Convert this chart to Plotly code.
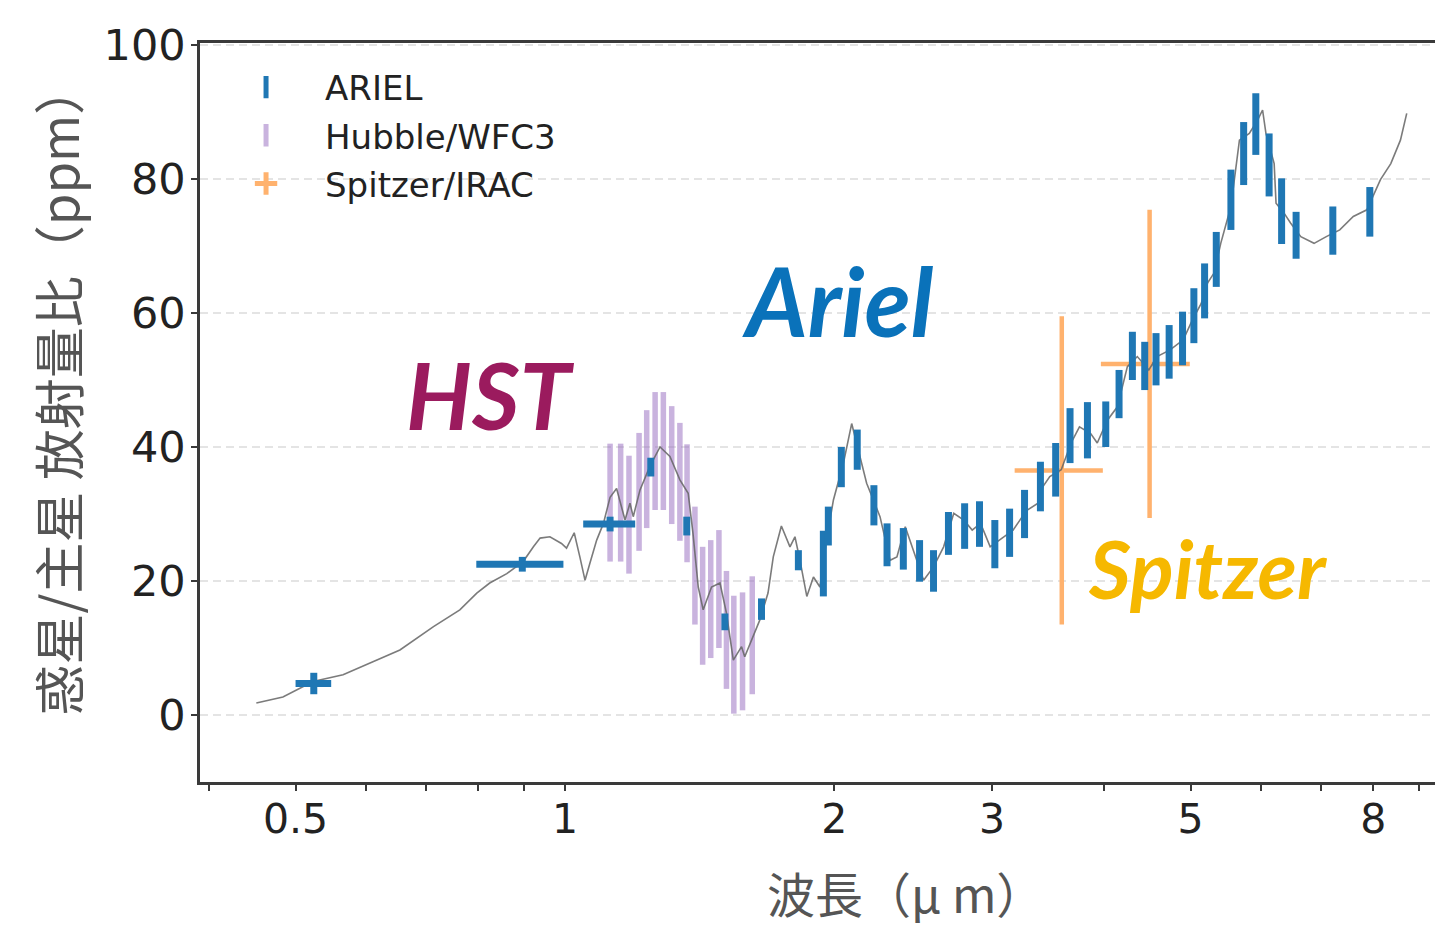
import plotly.graph_objects as go

# ---------------- data ----------------
model_x = [0.452, 0.484, 0.523, 0.565, 0.611, 0.654, 0.713, 0.763, 0.797, 0.824, 0.861, 0.898,
           0.922, 0.938, 0.962, 0.991, 1.004, 1.024, 1.039, 1.053, 1.066, 1.085, 1.104, 1.123,
           1.142, 1.167, 1.182, 1.192, 1.213, 1.244, 1.277, 1.310, 1.344, 1.373, 1.390, 1.409,
           1.427, 1.458, 1.490, 1.515, 1.542, 1.575, 1.588, 1.623, 1.651, 1.686, 1.709, 1.745,
           1.784, 1.807, 1.831, 1.863, 1.895, 1.927, 1.960, 1.995, 2.047, 2.091, 2.126, 2.173,
           2.211, 2.249, 2.308, 2.349, 2.400, 2.452, 2.516, 2.581, 2.649, 2.719, 2.790, 2.851,
           2.913, 2.986, 3.061, 3.167, 3.278, 3.377, 3.420, 3.481, 3.585, 3.677, 3.757, 3.867,
           3.933, 4.037, 4.142, 4.250, 4.360, 4.491, 4.587, 4.744, 4.907, 5.021, 5.138, 5.225,
           5.313, 5.404, 5.547, 5.670, 5.816, 5.941, 6.018, 6.070, 6.200, 6.230, 6.360, 6.470,
           6.640, 6.870, 7.090, 7.340, 7.600, 7.870, 8.150, 8.370, 8.580, 8.720]
model_y = [1.8, 2.7, 5.0, 6.0, 8.0, 9.7, 13.2, 15.7, 18.2, 19.7, 21.1, 22.9,
           25.1, 26.4, 26.6, 25.6, 24.9, 27.2, 23.6, 20.1, 22.6, 26.1, 28.6, 32.5,
           33.8, 29.1, 31.6, 29.6, 33.6, 37.1, 40.0, 38.6, 35.1, 33.1, 27.1, 19.1,
           15.7, 19.1, 19.7, 15.2, 8.2, 10.2, 8.7, 11.7, 14.2, 18.2, 23.6, 28.2,
           25.1, 26.6, 23.0, 17.7, 20.6, 19.1, 26.1, 32.1, 37.6, 43.5, 39.6, 34.6,
           32.1, 29.6, 23.1, 23.6, 28.1, 24.6, 20.1, 22.1, 25.1, 30.1, 29.1, 27.6,
           28.6, 25.1, 26.1, 27.6, 30.5, 31.6, 34.1, 35.6, 36.6, 40.6, 43.0, 42.0,
           40.6, 44.0, 46.0, 52.0, 53.5, 51.5, 53.5, 54.5, 56.0, 58.9, 61.4, 64.5,
           66.0, 70.4, 75.9, 85.8, 86.8, 88.8, 90.3, 86.8, 82.3, 76.4, 74.9, 73.4,
           71.4, 70.4, 71.4, 72.4, 74.4, 75.4, 79.9, 82.3, 85.8, 89.8]

# ARIEL binned points (first three also have wavelength bin widths)
ariel_wide_x = [0.524, 0.896, 1.123]
ariel_wide_y = [4.7, 22.5, 28.5]
ariel_wide_xerr = [0.024, 0.100, 0.075]
ariel_wide_yerr = [1.6, 1.1, 1.1]

ariel_x = [1.247, 1.368, 1.509, 1.658, 1.823, 1.944, 1.969, 2.036, 2.121, 2.214, 2.290,
           2.388, 2.490, 2.581, 2.682, 2.796, 2.905, 3.022, 3.139, 3.262, 3.398, 3.534,
           3.667, 3.835, 4.020, 4.160, 4.305, 4.444, 4.575, 4.732, 4.898, 5.043, 5.184,
           5.342, 5.547, 5.732, 5.914, 6.120, 6.320, 6.560, 7.210, 7.930]
ariel_y = [37.0, 28.2, 13.9, 15.8, 23.1, 22.6, 28.2, 37.0, 39.6, 31.3, 25.4,
           24.8, 23.0, 21.5, 27.1, 28.2, 28.5, 25.5, 27.2, 30.0, 34.1, 36.6,
           41.7, 42.5, 43.4, 47.9, 53.6, 52.1, 53.1, 54.2, 56.2, 59.6, 63.3,
           68.0, 76.9, 83.8, 88.2, 82.1, 75.2, 71.6, 72.3, 75.1]
ariel_yerr = [1.4, 1.4, 1.25, 1.6, 1.5, 4.9, 2.9, 3.0, 3.0, 3.0, 3.2,
              3.1, 3.1, 3.1, 3.2, 3.4, 3.4, 3.6, 3.6, 3.6, 3.7, 4.0,
              4.1, 4.2, 3.4, 3.6, 3.6, 3.6, 3.9, 4.0, 4.0, 4.1, 4.1,
              4.1, 4.5, 4.7, 4.6, 4.7, 4.9, 3.5, 3.6, 3.7]

hubble_x = [1.123, 1.154, 1.179, 1.210, 1.234, 1.261, 1.288, 1.316, 1.344,
            1.369, 1.397, 1.425, 1.455, 1.486, 1.515, 1.544, 1.579, 1.619]
hubble_y = [31.7, 31.7, 29.9, 33.3, 36.7, 39.4, 39.4, 37.3, 34.8,
            31.6, 22.3, 16.3, 17.3, 18.8, 12.7, 9.0, 9.5, 11.9]
hubble_yerr = [8.8] * 18

spitzer_x = [3.59, 4.50]
spitzer_y = [36.5, 52.4]
spitzer_xerr_minus = [0.41, 0.53]
spitzer_xerr_plus = [0.40, 0.49]
spitzer_yerr = [23.0, 23.0]

x_tickvals = [0.4, 0.5, 0.6, 0.7, 0.8, 0.9, 1, 2, 3, 4, 5, 6, 7, 8, 9]
x_ticktext = ["", "0.5", "", "", "", "", "1", "2", "3", "", "5", "", "", "8", ""]
y_tickvals = [0, 20, 40, 60, 80, 100]

legend_names = ["ARIEL", "Hubble/WFC3", "Spitzer/IRAC"]

# ---------------- styles ----------------
BLUE = "#1f77b4"
PURPLE = "rgba(148,103,189,0.5)"
ORANGE = "#ffb26e"
INVIS = dict(size=1, color="rgba(0,0,0,0)")

fig = go.Figure()

fig.add_trace(go.Scatter(
    x=hubble_x, y=hubble_y, mode="markers", marker=INVIS, showlegend=False, hoverinfo="skip",
    error_y=dict(type="data", array=hubble_yerr, color=PURPLE, thickness=5.5, width=0)))

fig.add_trace(go.Scatter(
    x=spitzer_x, y=spitzer_y, mode="markers", marker=INVIS, showlegend=False, hoverinfo="skip",
    error_y=dict(type="data", array=spitzer_yerr, color=ORANGE, thickness=4.5, width=0),
    error_x=dict(type="data", array=spitzer_xerr_plus, arrayminus=spitzer_xerr_minus,
                 color=ORANGE, thickness=4.5, width=0)))

fig.add_trace(go.Scatter(
    x=model_x, y=model_y, mode="lines", line=dict(color="rgba(100,100,100,0.85)", width=1.6),
    showlegend=False, hoverinfo="skip"))

fig.add_trace(go.Scatter(
    x=ariel_wide_x, y=ariel_wide_y, mode="markers", marker=INVIS, showlegend=False, hoverinfo="skip",
    error_y=dict(type="data", array=ariel_wide_yerr, color=BLUE, thickness=7, width=0),
    error_x=dict(type="data", array=ariel_wide_xerr, color=BLUE, thickness=7, width=0)))

fig.add_trace(go.Scatter(
    x=ariel_x, y=ariel_y, mode="markers", marker=INVIS, showlegend=False, hoverinfo="skip",
    error_y=dict(type="data", array=ariel_yerr, color=BLUE, thickness=7, width=0)))

# legend entries
leg_symbols = ["line-ns-open", "line-ns-open", "cross-thin-open"]
leg_colors = [BLUE, PURPLE, ORANGE]
for nm, sym, col in zip(legend_names, leg_symbols, leg_colors):
    fig.add_trace(go.Scatter(x=[None], y=[None], mode="markers", name=nm, legendgroup=nm,
                             marker=dict(symbol=sym, size=16, color=col,
                                         line=dict(color=col, width=5))))

AX = "#3a3a3a"
fig.update_layout(
    width=1435, height=931,
    margin=dict(l=200, r=0, t=43, b=149, pad=0),
    plot_bgcolor="white", paper_bgcolor="white",
    font=dict(family="DejaVu Sans", color="#222"),
    showlegend=True,
    legend=dict(x=0.0057, y=0.979, xanchor="left", yanchor="top", bgcolor="rgba(0,0,0,0)",
                font=dict(family="DejaVu Sans", size=34, color="#222"),
                itemwidth=108, tracegroupgap=1),
    xaxis=dict(type="log", range=[-0.4078, 0.9721], tickvals=x_tickvals, ticktext=x_ticktext,
               showgrid=False, zeroline=False, showline=True, mirror=True, linecolor=AX, linewidth=2.5,
               ticks="outside", ticklen=6, tickwidth=1.5, tickcolor=AX,
               tickfont=dict(family="DejaVu Sans", size=41, color="#222")),
    yaxis=dict(range=[-10, 100.3], tickvals=y_tickvals, showgrid=True, gridcolor="#e4e4e4",
               griddash="8px,5px", gridwidth=1.5, zeroline=False, showline=True, mirror=False,
               linecolor=AX, linewidth=2.5, ticks="outside", ticklen=6, tickwidth=1.5, tickcolor=AX,
               tickfont=dict(family="DejaVu Sans", size=43, color="#222")),
    annotations=[
        dict(text="HST", xref="paper", yref="paper", x=0.2348, y=0.5237, showarrow=False,
             xanchor="center", yanchor="middle",
             font=dict(family="Lato", size=92, color="#9b1b5e", weight="bold", style="italic")),
        dict(text="Ariel", xref="paper", yref="paper", x=0.5166, y=0.6522, showarrow=False,
             xanchor="center", yanchor="middle",
             font=dict(family="Lato", size=95, color="#0a72ba", weight="bold", style="italic")),
        dict(text="Spitzer", xref="paper", yref="paper", x=0.8162, y=0.290, showarrow=False,
             xanchor="center", yanchor="middle",
             font=dict(family="Lato", size=81, color="#f6b800", weight="bold", style="italic")),
        dict(text="波長（μ m）", xref="paper", yref="paper", x=0.5712, y=-0.1489, showarrow=False,
             xanchor="center", yanchor="middle",
             font=dict(family="Noto Sans CJK JP", size=48, color="#555")),
        dict(text="惑星/主星 放射量比（ppm）", xref="paper", yref="paper", x=-0.1158, y=0.531,
             showarrow=False, textangle=-90, xanchor="center", yanchor="middle",
             font=dict(family="Noto Sans CJK JP", size=51, color="#555")),
    ],
)

# tick labels sit slightly closer to the axes in the reference
try:
    fig.update_xaxes(ticklabelstandoff=-7)
    fig.update_yaxes(ticklabelstandoff=-3)
except Exception:
    pass

fig.write_html("out.html", config={"displayModeBar": False},
               post_script="document.body.style.margin='0';")
